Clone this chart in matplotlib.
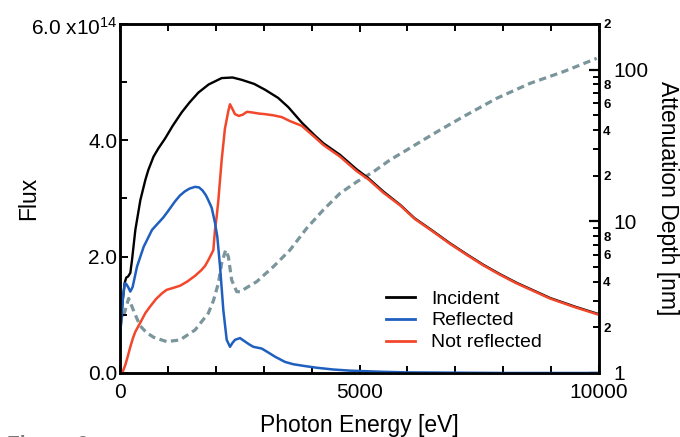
import matplotlib
matplotlib.use("Agg")
import matplotlib.pyplot as plt
from matplotlib.ticker import FixedLocator, FixedFormatter

plt.rcParams['font.family'] = ['Liberation Sans', 'DejaVu Sans']
plt.rcParams['mathtext.fontset'] = 'custom'
plt.rcParams['mathtext.rm'] = 'Liberation Sans'
plt.rcParams['mathtext.it'] = 'Liberation Sans'

# ---- data (flux in units of 1e14, energy in eV, depth in nm) ----
inc_E = [0, 56, 98, 130, 170, 215, 250, 320, 424, 529, 591, 700, 800, 940, 1100,
         1287, 1450, 1635, 1850, 2122, 2350, 2540, 2800, 3027, 3300, 3514, 3800,
         4071, 4245, 4593, 4941, 5184, 5497, 5850, 6150, 6500, 6889, 7240, 7585,
         7930, 8281, 8630, 8977, 9500, 10000]
inc_F = [0.62, 1.25, 1.55, 1.64, 1.66, 1.72, 1.94, 2.46, 2.97, 3.32, 3.49, 3.72,
         3.86, 4.03, 4.25, 4.48, 4.65, 4.82, 4.96, 5.07, 5.08, 5.04, 4.97, 4.87,
         4.73, 4.57, 4.30, 4.08, 3.95, 3.75, 3.50, 3.35, 3.12, 2.89, 2.66, 2.46,
         2.23, 2.04, 1.86, 1.70, 1.55, 1.42, 1.29, 1.14, 1.01]

ref_E = [0, 56, 98, 130, 167, 215, 264, 355, 494, 668, 800, 900, 1000, 1148, 1250,
         1350, 1450, 1566, 1650, 1720, 1790, 1844, 1914, 1983, 2030, 2088, 2157,
         2227, 2296, 2350, 2401, 2505, 2610, 2700, 2783, 2958, 3100, 3236, 3445,
         3619, 3850, 4106, 4450, 4802, 5150, 5497, 6000, 7000, 8000, 9000, 10000]
ref_F = [0.62, 1.25, 1.54, 1.53, 1.48, 1.40, 1.48, 1.83, 2.17, 2.46, 2.58, 2.67,
         2.78, 2.95, 3.05, 3.12, 3.17, 3.20, 3.19, 3.14, 3.06, 2.97, 2.84, 2.58,
         2.35, 1.83, 1.08, 0.57, 0.45, 0.52, 0.57, 0.60, 0.54, 0.49, 0.45, 0.42,
         0.35, 0.28, 0.19, 0.15, 0.12, 0.09, 0.06, 0.04, 0.03, 0.02, 0.01, 0.005,
         0.0, 0.0, 0.0]

nref_E = [0, 60, 111, 160, 215, 270, 320, 420, 529, 626, 750, 877, 975, 1100, 1253,
          1400, 1566, 1700, 1775, 1850, 1948, 1983, 2018, 2053, 2122, 2190, 2260,
          2296, 2340, 2400, 2480, 2560, 2650, 2750, 2900, 3027, 3200, 3375, 3549,
          3793, 4071, 4245, 4593, 4941, 5184, 5497, 5850, 6150, 6500, 6889, 7240,
          7585, 7930, 8281, 8630, 8977, 9500, 10000]
nref_F = [0.0, 0.03, 0.14, 0.28, 0.45, 0.60, 0.71, 0.86, 1.03, 1.14, 1.27, 1.37,
          1.43, 1.46, 1.50, 1.57, 1.67, 1.77, 1.84, 1.95, 2.11, 2.46, 2.69, 2.97,
          3.66, 4.20, 4.50, 4.62, 4.55, 4.45, 4.42, 4.44, 4.49, 4.48, 4.46, 4.45,
          4.43, 4.40, 4.33, 4.25, 4.05, 3.92, 3.72, 3.47, 3.33, 3.10, 2.88, 2.65,
          2.45, 2.22, 2.03, 1.85, 1.69, 1.54, 1.41, 1.28, 1.13, 1.0]

att_E = [0, 60, 180, 300, 418, 550, 700, 975, 1250, 1566, 1844, 1950, 2053, 2122,
         2206, 2262, 2331, 2436, 2505, 2679, 2853, 3200, 3549, 3897, 4245, 4593,
         4941, 5289, 5637, 5984, 6332, 6681, 7167, 7864, 8559, 9255, 9952]
att_D = [2.6, 2.3, 3.1, 2.5, 2.05, 1.85, 1.72, 1.61, 1.65, 1.92, 2.48, 3.0, 3.9,
         5.3, 6.47, 5.84, 4.1, 3.44, 3.43, 3.71, 4.0, 5.02, 6.47, 9.0, 11.9, 15.3,
         18.2, 21.2, 25.4, 29.5, 34.4, 40.0, 49.0, 64.7, 81.2, 96.9, 118.7]

series_labels = ['Incident', 'Reflected', 'Not reflected']
x_ticks = [0, 5000, 10000]
x_ticklabels = ['0', '5000', '10000']
y_ticks = [0, 2, 4, 6]
y_ticklabels = ['0.0', '2.0', '4.0', '']
y_top_label = r'6.0 x10$^{14}$'
r_major = [1, 10, 100]
r_major_labels = ['1', '10', '100']
r_minor = [2, 3, 4, 5, 6, 7, 8, 9, 20, 30, 40, 50, 60, 70, 80, 90, 200]
r_minor_labels = ['2', '', '4', '', '6', '', '8', '', '2', '', '4', '', '6', '', '8', '', '2']

C_BLACK = '#000000'
C_BLUE = '#1f5fbf'
C_RED = '#f2472b'
C_DASH = '#7a959b'

fig = plt.figure(figsize=(6.8, 4.37), dpi=100)
ax = fig.add_axes([0.1765, 0.1465, 0.7044, 0.7986])
ax2 = ax.twinx()

# attenuation depth (behind)
ax2.plot(att_E, att_D, color=C_DASH, lw=2.3, dashes=(2.3, 1.4), solid_capstyle='butt')
ax2.set_yscale('log')
ax2.set_ylim(1, 200)

ax.set_zorder(ax2.get_zorder() + 1)
ax.patch.set_visible(False)

l_inc, = ax.plot(inc_E, inc_F, color=C_BLACK, lw=1.7, label=series_labels[0])
l_nref, = ax.plot(nref_E, nref_F, color=C_RED, lw=1.8, label=series_labels[2], zorder=2.1)
l_ref, = ax.plot(ref_E, ref_F, color=C_BLUE, lw=1.8, label=series_labels[1], zorder=2.2)

ax.set_xlim(0, 10000)
ax.set_ylim(0, 6)

ax.xaxis.set_major_locator(FixedLocator(x_ticks))
ax.xaxis.set_major_formatter(FixedFormatter(x_ticklabels))
ax.xaxis.set_minor_locator(FixedLocator(list(range(0, 10001, 1000))))
ax.yaxis.set_major_locator(FixedLocator(y_ticks))
ax.yaxis.set_major_formatter(FixedFormatter(y_ticklabels))
ax.yaxis.set_minor_locator(FixedLocator([1, 3, 5]))

ax.tick_params(which='both', direction='in', top=True, right=False, width=1.4,
               labelsize=15)
ax.tick_params(axis='x', which='both', pad=7)
ax.tick_params(axis='y', which='both', pad=2)
ax.tick_params(which='major', length=6)
ax.tick_params(which='minor', length=5)

ax2.yaxis.set_major_locator(FixedLocator(r_major))
ax2.yaxis.set_major_formatter(FixedFormatter(r_major_labels))
ax2.yaxis.set_minor_locator(FixedLocator(r_minor))
ax2.yaxis.set_minor_formatter(FixedFormatter(r_minor_labels))
ax2.tick_params(which='major', direction='in', length=7, width=1.6, labelsize=15, pad=10)
ax2.tick_params(which='minor', direction='in', length=4, width=1.4, labelsize=9.5, pad=3)
for t in ax2.yaxis.get_minorticklabels():
    t.set_fontweight('bold')

for sp in list(ax.spines.values()) + list(ax2.spines.values()):
    sp.set_linewidth(1.8)

fig.text(118 / 680, (437 - 35) / 437, y_top_label, fontsize=15, ha='right', va='baseline')

ax.set_xlabel('Photon Energy [eV]', fontsize=16.5)
ax.xaxis.set_label_coords(0.5, -0.117)
ax.set_ylabel('Flux', fontsize=16.5)
ax.yaxis.set_label_coords(-0.167, 0.5)
ax2.set_ylabel('Attenuation Depth [nm]', fontsize=16.5, rotation=270, va='center')
ax2.yaxis.set_label_coords(1.142, 0.5)

leg = ax.legend([l_inc, l_ref, l_nref], series_labels, loc='upper left',
                bbox_to_anchor=(0.556, 0.238), frameon=False,
                fontsize=14, handlelength=1.45, handletextpad=0.85, labelspacing=0.22,
                borderpad=0, borderaxespad=0)
for h in leg.get_lines():
    h.set_linewidth(2.0)

fig.text(0.01, 0.004, 'Figure 6', fontsize=15, fontweight='bold', color='#777777', va='top')

fig.savefig('out.png', dpi=100)
